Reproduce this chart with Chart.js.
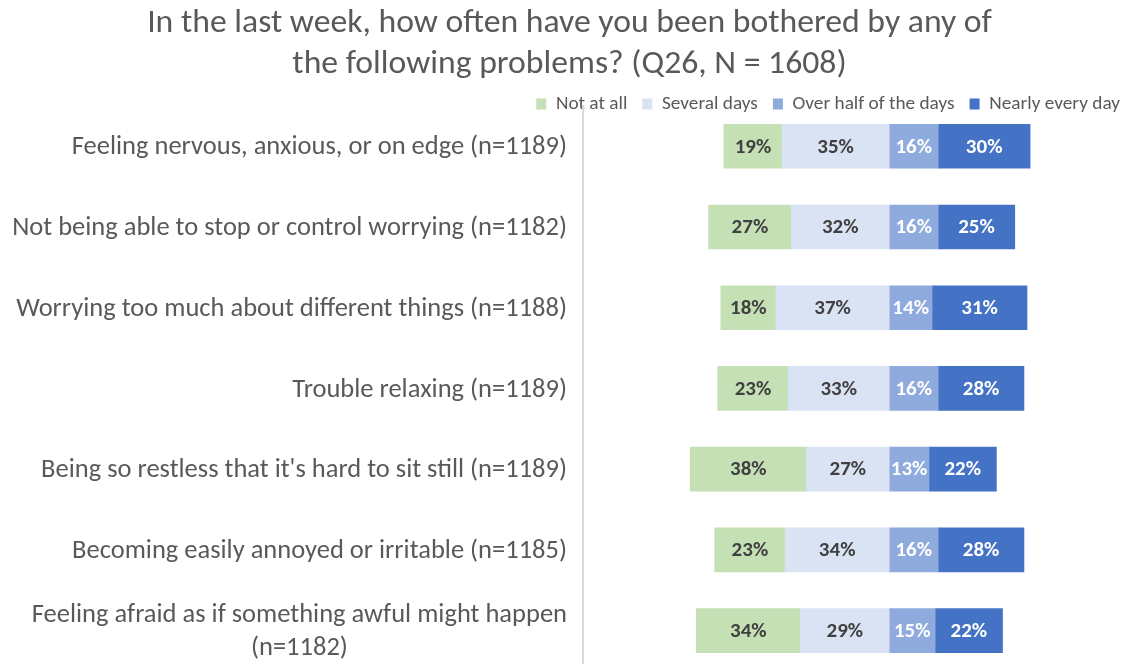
<!DOCTYPE html>
<html><head><meta charset="utf-8">
<script src="https://cdn.jsdelivr.net/npm/chart.js@4/dist/chart.umd.min.js"></script>
<style>html,body{margin:0;padding:0;background:#fff;overflow:hidden}canvas{display:block}</style>
</head><body>
<canvas id="c" width="1125" height="671"></canvas>
<script>
// ---- data ----
const categories = [
  'Feeling nervous, anxious, or on edge (n=1189)',
  'Not being able to stop or control worrying (n=1182)',
  'Worrying too much about different things (n=1188)',
  'Trouble relaxing (n=1189)',
  "Being so restless that it's hard to sit still (n=1189)",
  'Becoming easily annoyed or irritable (n=1185)',
  ['Feeling afraid as if something awful might happen', '(n=1182)']
];
const seriesNames = ['Not at all', 'Several days', 'Over half of the days', 'Nearly every day'];
const notAtAll      = [19, 27, 18, 23, 38, 23, 34];
const severalDays   = [35, 32, 37, 33, 27, 34, 29];
const overHalfDays  = [16, 16, 14, 16, 13, 16, 15];
const nearlyEveryDay= [30, 25, 31, 28, 22, 28, 22];
const titleLines = ['In the last week, how often have you been bothered by any of', 'the following problems? (Q26, N = 1608)'];

const FONT = '"Carlito", "Calibri", "Liberation Sans Narrow", sans-serif';
const colors = {'Not at all':'#C5E0B4','Several days':'#DAE3F3','Over half of the days':'#8FAADC','Nearly every day':'#4472C4'};
const labelColors = {'Not at all':'#404040','Several days':'#404040','Over half of the days':'#ffffff','Nearly every day':'#ffffff'};

function ds(name, values, sign) {
  return {label: name, data: values.map(v => sign * v), backgroundColor: colors[name], borderWidth: 0,
          barThickness: 44, stack: 's'};
}

// datasets ordered for stacking outward from the centre line
const datasets = [
  ds('Several days', severalDays, -1),
  ds('Not at all', notAtAll, -1),
  ds('Over half of the days', overHalfDays, 1),
  ds('Nearly every day', nearlyEveryDay, 1)
];

const barLabels = {
  id: 'barLabels',
  afterDatasetsDraw(chart) {
    const ctx = chart.ctx;
    ctx.save();
    ctx.font = 'bold 21px ' + FONT;
    ctx.textAlign = 'center';
    ctx.textBaseline = 'middle';
    chart.data.datasets.forEach((d, di) => {
      const meta = chart.getDatasetMeta(di);
      meta.data.forEach((bar, i) => {
        const p = bar.getProps(['x', 'base', 'y'], true);
        ctx.fillStyle = labelColors[d.label];
        ctx.fillText(Math.abs(d.data[i]) + '%', (p.x + p.base) / 2, p.y + 1);
      });
    });
    ctx.restore();
  }
};

const catLabels = {
  id: 'catLabels',
  afterDraw(chart) {
    const ctx = chart.ctx, scale = chart.scales.y;
    ctx.save();
    ctx.font = '26.5px ' + FONT;
    ctx.fillStyle = '#595959';
    ctx.textBaseline = 'middle';
    ctx.textAlign = 'center';
    const right = scale.right - 16;
    const lh = 33;
    chart.data.labels.forEach((lab, i) => {
      const lines = Array.isArray(lab) ? lab : [lab];
      const w = Math.max(...lines.map(l => ctx.measureText(l).width));
      const cy = scale.getPixelForTick(i);
      const top = cy - (lines.length - 1) * lh / 2 + 1.5;
      lines.forEach((l, k) => ctx.fillText(l, right - w / 2, top + k * lh));
    });
    ctx.restore();
  }
};

const legendClip = {
  id: 'legendClip',
  afterLayout(chart) { if (chart.legend) chart.legend.bottom += 24; }
};

const legendOrder = seriesNames;

new Chart(document.getElementById('c'), {
  type: 'bar',
  data: {labels: categories, datasets},
  options: {
    indexAxis: 'y',
    responsive: false,
    animation: false,
    layout: {padding: {left: 4, right: -10, top: 0, bottom: 0}},
    scales: {
      x: {display: false, stacked: true, min: -100, max: 77},
      y: {
        stacked: true,
        grid: {display: false},
        border: {display: true, color: '#d9d9d9', width: 2},
        ticks: {display: false},
        afterFit(s) { s.width = 579; }
      }
    },
    plugins: {
      tooltip: {enabled: false},
      title: {
        display: true, text: titleLines, color: '#595959',
        font: {family: FONT, size: 33.7, weight: 'normal', lineHeight: 41 / 33.7},
        padding: {top: 3.5, bottom: -6.2}
      },
      legend: {
        position: 'top', align: 'end', maxHeight: 26.6,
        labels: {
          color: '#595959', boxWidth: 10, boxHeight: 11, padding: 15,
          font: {family: FONT, size: 19.3},
          sort: (a, b) => legendOrder.indexOf(a.text) - legendOrder.indexOf(b.text)
        }
      }
    }
  },
  plugins: [barLabels, catLabels, legendClip]
});
</script></body></html>
